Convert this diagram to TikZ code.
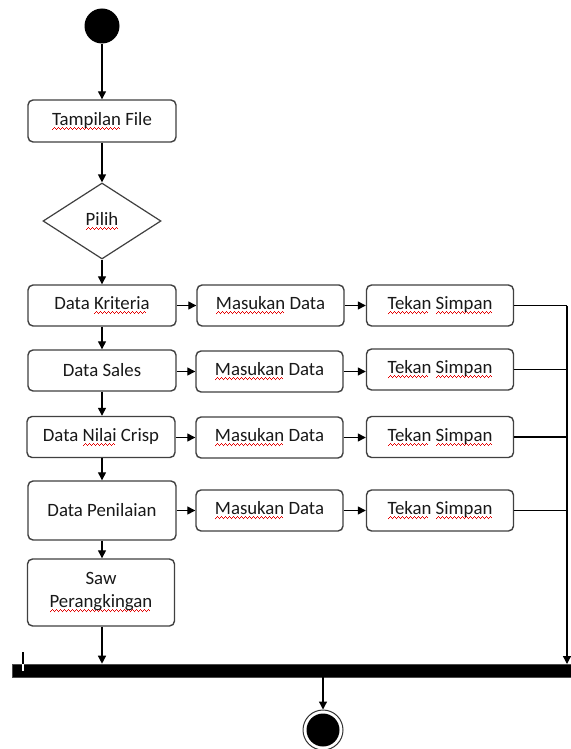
\documentclass[tikz,border=0pt]{standalone}
\usepackage{fontspec}
\setmainfont{Carlito}
\usetikzlibrary{shapes.geometric,arrows.meta}

% red wavy spell-check underline under a word
\newcommand\wavebit{\hbox{\rule{1pt}{1.1pt}\raise1pt\hbox{\rule{1pt}{1.1pt}}\raise2pt\hbox{\rule{1pt}{1.1pt}}\raise1pt\hbox{\rule{1pt}{1.1pt}}}}
\newcommand\sq[1]{\setbox0=\hbox{#1}\rlap{\lower4.5pt\hbox to \wd0{\color{red!90!black}\leaders\wavebit\hfill}}\box0\relax}

\tikzset{
  actbox/.style={draw=black!75, line width=1.4pt, rounded corners=5pt, fill=white,
    minimum width=148pt, minimum height=41pt, inner sep=0pt, text=black!90,
    font=\fontsize{18.8}{23}\selectfont, align=center},
  arr/.style={line width=1.3pt, -{Triangle[length=8pt,width=8pt]}},
  plain/.style={line width=1.3pt},
}

\begin{document}
\begin{tikzpicture}[x=1pt,y=-1pt]
\useasboundingbox[fill=white] (0,0) rectangle (570,749);

% start and decision
\node[circle, fill=black, minimum size=35pt, inner sep=0pt] (start) at (102,26) {};
\node[actbox, minimum height=42pt] (tf) at (102,121) {\sq{Tampilan} File};
\node[diamond, draw=black!75, line width=1.2pt, aspect=1.55, minimum width=118pt,
  minimum height=76pt, inner sep=0pt, text=black!90, font=\fontsize{18.8}{23}\selectfont]
  (pilih) at (102,221) {\raisebox{3pt}{\sq{Pilih}}};

% left column
\node[actbox] (dk) at (102,305.5) {Data \sq{Kriteria}};
\node[actbox] (ds) at (102,370.5) {\raisebox{2pt}{Data Sales}};
\node[actbox] (dn) at (101,437) {Data \sq{Nilai} Crisp};
\node[actbox, minimum height=59pt] (dp) at (102,510.5) {\raisebox{2pt}{Data Penilaian}};
\node[actbox, minimum width=147pt, minimum height=67pt] (saw) at (101,592.5) {Saw\\\sq{Perangkingan}};

% input column
\node[actbox, minimum width=147pt] (m1) at (270.5,305.5) {\sq{Masukan} Data};
\node[actbox, minimum width=147pt] (m2) at (269.5,371.5) {\sq{Masukan} Data};
\node[actbox, minimum width=147pt] (m3) at (269.5,437.5) {\sq{Masukan} Data};
\node[actbox, minimum width=147pt] (m4) at (269.5,510.5) {\sq{Masukan} Data};

% save column
\node[actbox, minimum width=147pt] (t1) at (440,305.5) {\sq{Tekan} \sq{Simpan}};
\node[actbox, minimum width=147pt] (t2) at (440,369.5) {\sq{Tekan} \sq{Simpan}};
\node[actbox, minimum width=147pt] (t3) at (440,437) {\sq{Tekan} \sq{Simpan}};
\node[actbox, minimum width=147pt] (t4) at (440,510.5) {\sq{Tekan} \sq{Simpan}};

% synchronisation bar and final node
\node[rectangle, fill=black, draw=black!70, line width=0.6pt, minimum width=562pt,
  minimum height=13pt, inner sep=0pt] (bar) at (293.5,670.5) {};
\node[circle, draw=black!80, line width=1pt, fill=white, minimum size=40pt, inner sep=0pt] (end) at (323,730) {};
\node[circle, fill=black, minimum size=33pt, inner sep=0pt] (endin) at (end.center) {};

% text cursor mark on the bar
\coordinate (ktop) at (23,652);
\coordinate (kmid) at (23,664);
\coordinate (kbot) at (23,671);
\draw[line width=2pt, black] (ktop) -- (kmid);
\draw[line width=2pt, white] (kmid) -- (kbot);

% main flow
\draw[arr] (start) -- (tf);
\draw[arr] (tf) -- (pilih);
\draw[arr] (pilih) -- (dk);
\draw[arr] (dk) -- (dk.south |- ds.north);
\draw[arr] (ds) -- (ds.south |- dn.north);
\draw[arr] (dn.south -| ds.south) -- (ds.south |- dp.north);
\draw[arr] (dp) -- (dp.south |- saw.north);
\draw[arr] (saw.south -| dp.south) -- (dp.south |- bar.north);

% rows
\draw[arr] (dk.east |- m1) -- (m1);
\draw[arr] (ds.east |- m2) -- (m2);
\draw[arr] (dn.east |- m3) -- (m3);
\draw[arr] (dp.east |- m4) -- (m4);
\draw[arr] (m1) -- (t1.west |- m1);
\draw[arr] (m2) -- (t2.west |- m2);
\draw[arr] (m3) -- (t3.west |- m3);
\draw[arr] (m4) -- (t4.west |- m4);

% collector on the right
\coordinate (c1) at (567,305.5);
\coordinate (cb) at (567,664);
\draw[plain] (t1) -- (c1);
\draw[plain] (t2) -- (t2 -| c1);
\draw[plain] (t3) -- (t3 -| c1);
\draw[plain] (t4) -- (t4 -| c1);
\draw[arr] (c1) -- (cb);

% to the final node
\draw[arr] (bar.south -| end) -- (end);
\end{tikzpicture}
\end{document}
